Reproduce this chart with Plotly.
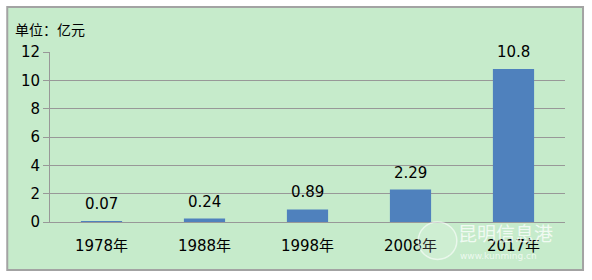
import plotly.graph_objects as go

categories = ["1978年", "1988年", "1998年", "2008年", "2017年"]
values = [0.07, 0.24, 0.89, 2.29, 10.8]
value_labels = ["0.07", "0.24", "0.89", "2.29", "10.8"]
y_ticks = [0, 2, 4, 6, 8, 10, 12]

FONT = "DejaVu Sans, Noto Sans CJK SC, sans-serif"
GRID = "#989898"

fig = go.Figure()
fig.add_trace(go.Bar(
    x=categories, y=values,
    marker=dict(color="#4F81BD", line=dict(width=0)),
    width=0.4,
    hoverinfo="skip",
))

for c, v, t in zip(categories, values, value_labels):
    fig.add_annotation(x=c, y=v, text=t, showarrow=False, yanchor="bottom",
                       yshift=6, font=dict(size=15, color="#000000", family=FONT))

fig.add_annotation(xref="paper", yref="paper", x=-0.072, y=1.13, text="单位：亿元",
                   showarrow=False, xanchor="left", yanchor="middle",
                   font=dict(size=14, color="#000000", family=FONT))

# watermark
fig.add_annotation(xref="paper", yref="paper", x=0.98, y=-0.07, text="昆明信息港",
                   showarrow=False, xanchor="right", yanchor="middle",
                   font=dict(size=19, color="rgba(255,255,255,0.75)", family=FONT))
fig.add_annotation(xref="paper", yref="paper", x=0.95, y=-0.2, text="www.kunming.cn",
                   showarrow=False, xanchor="right", yanchor="middle",
                   font=dict(size=9, color="rgba(255,255,255,0.7)", family=FONT))
fig.add_shape(type="circle", xref="paper", yref="paper", x0=0.715, x1=0.79, y0=-0.22, y1=0.0,
              line=dict(color="rgba(255,255,255,0.6)", width=1.5), fillcolor="rgba(255,255,255,0.15)")

# outer chart frame
fig.add_shape(type="rect", xref="paper", yref="paper", layer="below",
              x0=-0.083, x1=1.035, y0=-0.282, y1=1.265,
              fillcolor="#C6EBCB", line=dict(color="#A3A3A3", width=2))

fig.update_layout(
    width=592, height=280,
    margin=dict(l=50, r=27, t=52, b=58),
    paper_bgcolor="#FFFFFF", plot_bgcolor="rgba(0,0,0,0)",
    showlegend=False,
    bargap=0.6,
    font=dict(family=FONT, size=15, color="#000000"),
)
fig.update_xaxes(showgrid=False, showline=True, linecolor=GRID, linewidth=1,
                 ticks="", tickfont=dict(size=15, family=FONT), ticklabelstandoff=10)
fig.update_yaxes(range=[0, 12], tickvals=y_ticks, showgrid=True, gridcolor=GRID, gridwidth=1,
                 showline=True, linecolor=GRID, linewidth=1, ticks="outside", ticklen=6,
                 tickcolor=GRID, zeroline=False, tickfont=dict(size=15, family=FONT))

fig.write_html("out.html")
